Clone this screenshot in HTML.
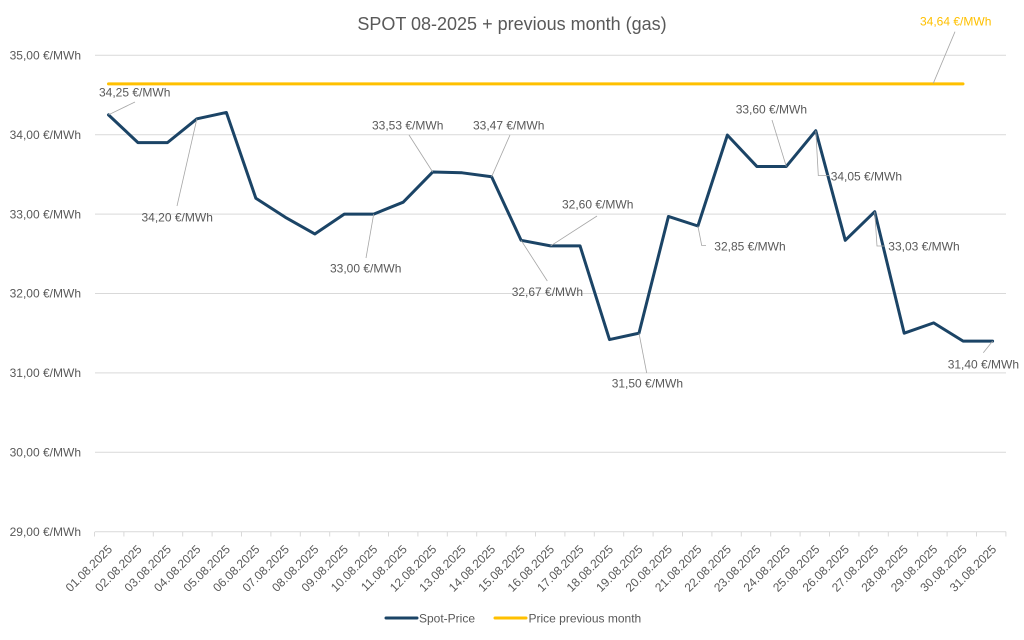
<!DOCTYPE html>
<html>
<head>
<meta charset="utf-8">
<style>
html,body{margin:0;padding:0;background:#fff;}
svg{display:block;}
text{font-family:"Liberation Sans",sans-serif;fill:#595959;}
</style>
</head>
<body>
<svg width="1024" height="640" viewBox="0 0 1024 640" xmlns="http://www.w3.org/2000/svg">
<rect width="1024" height="640" fill="#fff"/>
<text x="512" y="30" font-size="18" text-anchor="middle">SPOT 08-2025 + previous month (gas)</text>

<!-- gridlines -->
<g stroke="#D9D9D9" stroke-width="1">
<line x1="95" y1="55.3" x2="1006" y2="55.3"/>
<line x1="95" y1="134.7" x2="1006" y2="134.7"/>
<line x1="95" y1="214.1" x2="1006" y2="214.1"/>
<line x1="95" y1="293.5" x2="1006" y2="293.5"/>
<line x1="95" y1="372.9" x2="1006" y2="372.9"/>
<line x1="95" y1="452.3" x2="1006" y2="452.3"/>
<line x1="95" y1="531.7" x2="1006" y2="531.7"/>
</g>
<!-- ticks -->
<g stroke="#D9D9D9" stroke-width="1">
<line x1="94.5" y1="531.7" x2="94.5" y2="536.5"/><line x1="123.9" y1="531.7" x2="123.9" y2="536.5"/><line x1="153.3" y1="531.7" x2="153.3" y2="536.5"/><line x1="182.7" y1="531.7" x2="182.7" y2="536.5"/><line x1="212.1" y1="531.7" x2="212.1" y2="536.5"/><line x1="241.5" y1="531.7" x2="241.5" y2="536.5"/><line x1="270.9" y1="531.7" x2="270.9" y2="536.5"/><line x1="300.3" y1="531.7" x2="300.3" y2="536.5"/><line x1="329.7" y1="531.7" x2="329.7" y2="536.5"/><line x1="359.1" y1="531.7" x2="359.1" y2="536.5"/><line x1="388.5" y1="531.7" x2="388.5" y2="536.5"/><line x1="417.9" y1="531.7" x2="417.9" y2="536.5"/><line x1="447.3" y1="531.7" x2="447.3" y2="536.5"/><line x1="476.7" y1="531.7" x2="476.7" y2="536.5"/><line x1="506.1" y1="531.7" x2="506.1" y2="536.5"/><line x1="535.5" y1="531.7" x2="535.5" y2="536.5"/><line x1="564.9" y1="531.7" x2="564.9" y2="536.5"/><line x1="594.3" y1="531.7" x2="594.3" y2="536.5"/><line x1="623.7" y1="531.7" x2="623.7" y2="536.5"/><line x1="653.1" y1="531.7" x2="653.1" y2="536.5"/><line x1="682.5" y1="531.7" x2="682.5" y2="536.5"/><line x1="711.9" y1="531.7" x2="711.9" y2="536.5"/><line x1="741.3" y1="531.7" x2="741.3" y2="536.5"/><line x1="770.7" y1="531.7" x2="770.7" y2="536.5"/><line x1="800.1" y1="531.7" x2="800.1" y2="536.5"/><line x1="829.5" y1="531.7" x2="829.5" y2="536.5"/><line x1="858.9" y1="531.7" x2="858.9" y2="536.5"/><line x1="888.3" y1="531.7" x2="888.3" y2="536.5"/><line x1="917.7" y1="531.7" x2="917.7" y2="536.5"/><line x1="947.1" y1="531.7" x2="947.1" y2="536.5"/><line x1="976.5" y1="531.7" x2="976.5" y2="536.5"/><line x1="1005.9" y1="531.7" x2="1005.9" y2="536.5"/>
</g>

<!-- y labels -->
<g font-size="12" text-anchor="end">
<text x="81" y="59.5">35,00 €/MWh</text>
<text x="81" y="138.9">34,00 €/MWh</text>
<text x="81" y="218.3">33,00 €/MWh</text>
<text x="81" y="297.7">32,00 €/MWh</text>
<text x="81" y="377.1">31,00 €/MWh</text>
<text x="81" y="456.5">30,00 €/MWh</text>
<text x="81" y="535.9">29,00 €/MWh</text>
</g>

<!-- x labels -->
<g font-size="12" text-anchor="end">
<text transform="translate(113,550) rotate(-45)">01.08.2025</text>
<text transform="translate(142.5,550) rotate(-45)">02.08.2025</text>
<text transform="translate(171.9,550) rotate(-45)">03.08.2025</text>
<text transform="translate(201.4,550) rotate(-45)">04.08.2025</text>
<text transform="translate(230.9,550) rotate(-45)">05.08.2025</text>
<text transform="translate(260.4,550) rotate(-45)">06.08.2025</text>
<text transform="translate(289.8,550) rotate(-45)">07.08.2025</text>
<text transform="translate(319.3,550) rotate(-45)">08.08.2025</text>
<text transform="translate(348.8,550) rotate(-45)">09.08.2025</text>
<text transform="translate(378.2,550) rotate(-45)">10.08.2025</text>
<text transform="translate(407.7,550) rotate(-45)">11.08.2025</text>
<text transform="translate(437.2,550) rotate(-45)">12.08.2025</text>
<text transform="translate(466.6,550) rotate(-45)">13.08.2025</text>
<text transform="translate(496.1,550) rotate(-45)">14.08.2025</text>
<text transform="translate(525.6,550) rotate(-45)">15.08.2025</text>
<text transform="translate(555,550) rotate(-45)">16.08.2025</text>
<text transform="translate(584.5,550) rotate(-45)">17.08.2025</text>
<text transform="translate(614,550) rotate(-45)">18.08.2025</text>
<text transform="translate(643.5,550) rotate(-45)">19.08.2025</text>
<text transform="translate(672.9,550) rotate(-45)">20.08.2025</text>
<text transform="translate(702.4,550) rotate(-45)">21.08.2025</text>
<text transform="translate(731.9,550) rotate(-45)">22.08.2025</text>
<text transform="translate(761.3,550) rotate(-45)">23.08.2025</text>
<text transform="translate(790.8,550) rotate(-45)">24.08.2025</text>
<text transform="translate(820.3,550) rotate(-45)">25.08.2025</text>
<text transform="translate(849.8,550) rotate(-45)">26.08.2025</text>
<text transform="translate(879.2,550) rotate(-45)">27.08.2025</text>
<text transform="translate(908.7,550) rotate(-45)">28.08.2025</text>
<text transform="translate(938.2,550) rotate(-45)">29.08.2025</text>
<text transform="translate(967.6,550) rotate(-45)">30.08.2025</text>
<text transform="translate(997.1,550) rotate(-45)">31.08.2025</text>
</g>

<!-- previous month line -->
<line x1="108.5" y1="83.9" x2="963" y2="83.9" stroke="#FFC000" stroke-width="3" stroke-linecap="round"/>

<!-- spot line -->
<polyline fill="none" stroke="#1B4466" stroke-width="3" stroke-linejoin="round" stroke-linecap="round"
points="108.5,114.85 137.97,142.64 167.44,142.64 196.91,118.82 226.38,112.47 255.85,198.22 285.32,217.28 314.79,233.95 344.26,214.1 373.73,214.1 403.2,202.19 432.67,172.02 462.14,172.81 491.61,176.78 521.08,240.3 550.55,245.86 580.02,245.86 609.49,339.55 638.96,333.2 668.43,216.48 697.9,226.01 727.37,135.1 756.84,166.46 786.31,166.46 815.78,130.73 845.25,240.3 874.72,211.72 904.19,333.2 933.66,322.88 963.13,341.14 992.6,341.14"/>

<!-- leader lines -->
<g stroke="#A6A6A6" stroke-width="0.8" fill="none">
<line x1="108.5" y1="114.8" x2="135" y2="102"/>
<line x1="196.9" y1="118.8" x2="177" y2="206"/>
<line x1="373.7" y1="214.1" x2="366" y2="258"/>
<line x1="432.7" y1="172" x2="409" y2="135"/>
<line x1="491.6" y1="176.8" x2="510" y2="135"/>
<line x1="521.1" y1="240.3" x2="547.3" y2="281"/>
<line x1="550.6" y1="245.9" x2="597" y2="216"/>
<line x1="639" y1="333.2" x2="646.7" y2="373"/>
<polyline points="697.9,226 701.7,245.5 706,245.5"/>
<line x1="786.3" y1="166.5" x2="772" y2="120"/>
<polyline points="815.8,130.7 818.3,175.5 829,175.5"/>
<polyline points="874.7,211.7 877,246 885,246"/>
<line x1="992.6" y1="341.1" x2="983.3" y2="352.7"/>
<line x1="933.3" y1="83.3" x2="955" y2="31.7"/>
</g>

<!-- data labels -->
<g font-size="12">
<text x="99" y="96.5">34,25 €/MWh</text>
<text x="141.5" y="221.5">34,20 €/MWh</text>
<text x="330" y="272.5">33,00 €/MWh</text>
<text x="372" y="129.5">33,53 €/MWh</text>
<text x="473" y="129.5">33,47 €/MWh</text>
<text x="562" y="208.5">32,60 €/MWh</text>
<text x="511.7" y="296">32,67 €/MWh</text>
<text x="611.7" y="387.5">31,50 €/MWh</text>
<text x="714.3" y="250.5">32,85 €/MWh</text>
<text x="735.7" y="113.5">33,60 €/MWh</text>
<text x="830.7" y="180.5">34,05 €/MWh</text>
<text x="888.3" y="250.5">33,03 €/MWh</text>
<text x="947.7" y="368.5">31,40 €/MWh</text>
<text x="920" y="25.5" style="fill:#FFC000">34,64 €/MWh</text>
</g>

<!-- legend -->
<line x1="386" y1="618" x2="417" y2="618" stroke="#1B4466" stroke-width="3" stroke-linecap="round"/>
<text x="419" y="622.3" font-size="12">Spot-Price</text>
<line x1="495" y1="618" x2="526" y2="618" stroke="#FFC000" stroke-width="3" stroke-linecap="round"/>
<text x="528.5" y="622.3" font-size="12">Price previous month</text>
</svg>
</body>
</html>
